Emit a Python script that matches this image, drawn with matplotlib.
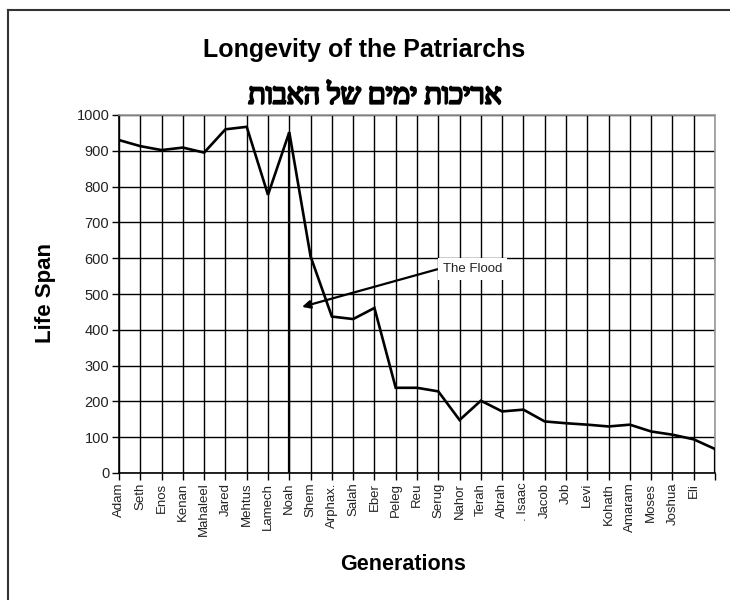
import matplotlib
matplotlib.use("Agg")
import matplotlib.pyplot as plt
from matplotlib.lines import Line2D
import matplotlib.patheffects as pe

generations = ["Adam", "Seth", "Enos", "Kenan", "Mahaleel", "Jared", "Mehtus", "Lamech",
               "Noah", "Shem", "Arphax.", "Salah", "Eber", "Peleg", "Reu", "Serug", "Nahor",
               "Terah", "Abrah", ". Isaac", "Jacob", "Job", "Levi", "Kohath", "Amaram",
               "Moses", "Joshua", "Eli", ""]
life_span = [930, 913, 902, 909, 895, 960, 967, 777, 952, 605, 437, 430, 461, 238, 238,
             228, 148, 202, 172, 177, 144, 139, 135, 130, 135, 116, 107, 94, 67]
y_ticks = [0, 100, 200, 300, 400, 500, 600, 700, 800, 900, 1000]
flood_index = 8
flood_arrow_start = (14.95, 569)
flood_arrow_end = (8.6, 464)

title_en = "Longevity of the Patriarchs"
title_he = "אריכות ימים של האבות"

plt.rcParams['font.family'] = ['Liberation Sans', 'DejaVu Sans']

fig = plt.figure(figsize=(7.3, 6.0), dpi=100)
ax = fig.add_axes([119/730, 1-473/600, (715-119)/730, (473-115)/600])

x = list(range(len(life_span)))
ax.plot(x, life_span, color='black', lw=1.9, solid_joinstyle='miter', zorder=5)
# vertical markers (Noah / end)
ax.vlines(flood_index, 0, life_span[flood_index], color='black', lw=1.6, zorder=5)
ax.vlines(x[-1], 0, life_span[-1], color='black', lw=1.6, zorder=5)

ax.set_xlim(0, len(life_span) - 1)
ax.set_ylim(0, 1000)
ax.set_xticks(x)
ax.set_xticklabels(generations, rotation=90, fontsize=9.5, color='#222222')
ax.set_yticks(y_ticks)
ax.set_yticklabels([str(v) for v in y_ticks], fontsize=10.5, color='#222222')
ax.tick_params(axis='both', direction='out', length=5, width=1, color='black', pad=2)
ax.grid(True, color='black', lw=1.0)
ax.set_axisbelow(True)

for s in ['top', 'right']:
    ax.spines[s].set_color('#999999')
    ax.spines[s].set_linewidth(1.2)
for s in ['left', 'bottom']:
    ax.spines[s].set_color('black')
    ax.spines[s].set_linewidth(1.2)

ax.annotate("", xy=flood_arrow_end, xytext=flood_arrow_start,
            arrowprops=dict(arrowstyle='-|>', color='black', lw=1.6,
                            mutation_scale=12, shrinkA=0, shrinkB=0), zorder=6)
ax.text(flood_arrow_start[0] + 0.25, flood_arrow_start[1], "The Flood", fontsize=9.5,
        ha='left', va='center', color='#222222', zorder=7,
        bbox=dict(facecolor='white', edgecolor='none', pad=3.5))

fig.text(364/730, 1-50/600, title_en, ha='center', va='center', fontsize=18,
         fontweight='bold', color='black')
fig.text(375/730, 1-97/600, title_he[::-1], ha='center', va='center', fontsize=20.5,
         family=['Liberation Serif', 'DejaVu Serif', 'DejaVu Sans'], color='black',
         path_effects=[pe.withStroke(linewidth=1.6, foreground='black')])
fig.text(45/730, 1-293/600, "Life Span", ha='center', va='center', rotation=90,
         fontsize=16, fontweight='bold')
fig.text(403/730, 1-565/600, "Generations", ha='center', va='center',
         fontsize=15.5, fontweight='bold')

# outer frame (top and left only)
fig.add_artist(Line2D([8/730, 1], [1-10/600, 1-10/600], transform=fig.transFigure,
                      color='#333333', lw=1.5))
fig.add_artist(Line2D([8/730, 8/730], [0, 1-10/600], transform=fig.transFigure,
                      color='#333333', lw=1.5))

fig.savefig("out.png", dpi=100, facecolor='white')
